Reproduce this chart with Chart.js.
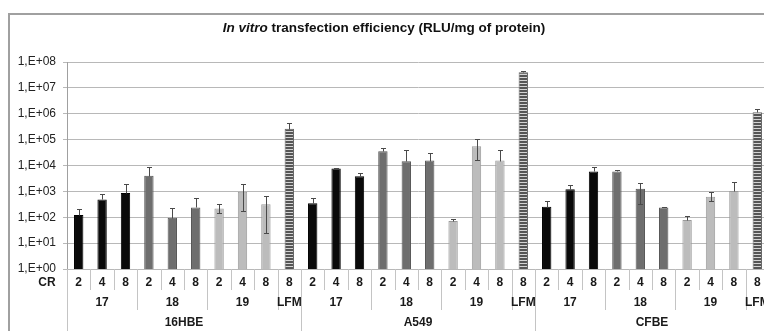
<!DOCTYPE html>
<html>
<head>
<meta charset="utf-8">
<script src="https://cdn.jsdelivr.net/npm/chart.js@4/dist/chart.umd.min.js"></script>
<style>
  html, body { margin: 0; padding: 0; background: #fff; overflow: hidden; }
  #wrap { position: relative; width: 790px; height: 331px; }
</style>
</head>
<body>
<div id="wrap"><canvas id="c"></canvas></div>
<script>
// Per-bar category rows (bottom axis reads: CR ratio / formulation / cell line)
const crLabels = ['2','4','8','2','4','8','2','4','8','8',
                  '2','4','8','2','4','8','2','4','8','8',
                  '2','4','8','2','4','8','2','4','8','8'];
const formulations = ['17','17','17','18','18','18','19','19','19','LFM',
                      '17','17','17','18','18','18','19','19','19','LFM',
                      '17','17','17','18','18','18','19','19','19','LFM'];
const cellLines = ['16HBE','16HBE','16HBE','16HBE','16HBE','16HBE','16HBE','16HBE','16HBE','16HBE',
                   'A549','A549','A549','A549','A549','A549','A549','A549','A549','A549',
                   'CFBE','CFBE','CFBE','CFBE','CFBE','CFBE','CFBE','CFBE','CFBE','CFBE'];

// Mean transfection efficiency (RLU/mg of protein)
const efficiency = [123, 490, 860, 4000, 96, 240, 220, 960, 316, 265000,
                    345, 7600, 3800, 35500, 14700, 15500, 72, 56000, 15500, 40000000,
                    257, 1200, 5900, 5900, 1260, 240, 79, 620, 1030, 1150000];
// Upper end of each error bar
const errorHigh = [214, 760, 1900, 9100, 220, 540, 330, 1900, 680, 435000,
                   540, 8300, 5200, 49000, 39000, 31600, 85, 102000, 38000, 43000000,
                   425, 1740, 8400, 7000, 2200, 257, 112, 940, 2340, 1550000];
// Lower end of each error bar (null where only the upper whisker is shown)
const errorLow = [null, null, null, null, null, null, 142, 178, 24, null,
                  null, null, null, null, null, null, null, 17000, null, null,
                  null, null, null, null, 325, null, null, 435, null, null];

// Y axis ticks
const yTicks = [1, 10, 100, 1000, 10000, 100000, 1000000, 10000000, 100000000];
const yTickLabels = ['1,E+00','1,E+01','1,E+02','1,E+03','1,E+04','1,E+05','1,E+06','1,E+07','1,E+08'];

const FONT = '"Liberation Sans", Arial, sans-serif';

function stripePattern() {
  const c = document.createElement('canvas');
  c.width = 4; c.height = 3;
  const g = c.getContext('2d');
  g.fillStyle = '#d4d4d4'; g.fillRect(0, 0, 4, 3);
  g.fillStyle = '#555555'; g.fillRect(0, 0, 4, 2);
  return g.createPattern(c, 'repeat');
}
const lfmFill = stripePattern();

const fillFor = { '17': '#0a0a0a', '18': '#6e6e6e', '19': '#bcbcbc', 'LFM': lfmFill };
const edgeFor = { '17': '#000000', '18': '#555555', '19': '#9a9a9a', 'LFM': '#666666' };

// Outer frame of the chart
const framePlugin = {
  id: 'frame',
  beforeDraw(chart) {
    const ctx = chart.ctx;
    ctx.save();
    ctx.strokeStyle = '#a0a0a0';
    ctx.lineWidth = 2;
    ctx.strokeRect(9, 14, 900, 400);
    ctx.restore();
  }
};

// Title with the italic "In vitro"
const titlePlugin = {
  id: 'mixedTitle',
  afterDraw(chart) {
    const ctx = chart.ctx;
    const a = 'In vitro', b = ' transfection efficiency (RLU/mg of protein)';
    const size = 13.5;
    ctx.save();
    ctx.fillStyle = '#111';
    ctx.textBaseline = 'middle';
    ctx.font = 'italic bold ' + size + 'px ' + FONT;
    const wa = ctx.measureText(a).width;
    ctx.font = 'bold ' + size + 'px ' + FONT;
    const wb = ctx.measureText(b).width;
    const x = 384 - (wa + wb) / 2;
    ctx.textAlign = 'left';
    ctx.font = 'italic bold ' + size + 'px ' + FONT;
    ctx.fillText(a, x, 28);
    ctx.font = 'bold ' + size + 'px ' + FONT;
    ctx.fillText(b, x + wa, 28);
    ctx.restore();
  }
};

// Error bars drawn through the scales
const errorPlugin = {
  id: 'errorBars',
  afterDatasetsDraw(chart) {
    const ctx = chart.ctx;
    const xs = chart.scales.x, ys = chart.scales.y;
    ctx.save();
    ctx.strokeStyle = '#4a4a4a';
    ctx.lineWidth = 1;
    efficiency.forEach((v, i) => {
      const x = Math.round(xs.getPixelForValue(i)) + 0.5;
      const yTop = Math.round(ys.getPixelForValue(errorHigh[i])) + 0.5;
      const yLow = Math.round(ys.getPixelForValue(errorLow[i] !== null ? errorLow[i] : v)) + 0.5;
      ctx.beginPath();
      ctx.moveTo(x, yLow); ctx.lineTo(x, yTop);
      ctx.moveTo(x - 2.5, yTop); ctx.lineTo(x + 2.5, yTop);
      if (errorLow[i] !== null) { ctx.moveTo(x - 2.5, yLow); ctx.lineTo(x + 2.5, yLow); }
      ctx.stroke();
    });
    ctx.restore();
  }
};

// Three-row category table under the plot
const tablePlugin = {
  id: 'categoryTable',
  afterDraw(chart) {
    const ctx = chart.ctx;
    const xs = chart.scales.x;
    const area = chart.chartArea;
    const n = crLabels.length;
    const step = (area.right - area.left) / n;
    const edge = i => area.left + i * step;
    const base = area.bottom;
    ctx.save();
    ctx.strokeStyle = '#c4c4c4';
    ctx.lineWidth = 1;
    // left axis continues through the table
    ctx.beginPath();
    ctx.moveTo(Math.round(area.left) + 0.5, base);
    ctx.lineTo(Math.round(area.left) + 0.5, 340);
    for (let i = 1; i <= n; i++) {
      let bottom = base + 21;
      if (i === n || cellLines[i] !== cellLines[i - 1]) bottom = 340;
      else if (formulations[i] !== formulations[i - 1]) bottom = base + 41;
      const x = Math.round(edge(i)) + 0.5;
      ctx.moveTo(x, base); ctx.lineTo(x, bottom);
    }
    ctx.stroke();

    ctx.fillStyle = '#1a1a1a';
    ctx.font = 'bold 12px ' + FONT;
    ctx.textAlign = 'center';
    ctx.textBaseline = 'middle';
    ctx.fillText('CR', 47, base + 14);
    crLabels.forEach((t, i) => ctx.fillText(t, xs.getPixelForValue(i), base + 14));

    // formulation spans
    let s = 0;
    for (let i = 1; i <= n; i++) {
      if (i === n || formulations[i] !== formulations[s] || cellLines[i] !== cellLines[s]) {
        ctx.fillText(formulations[s], (edge(s) + edge(i)) / 2, base + 34);
        s = i;
      }
    }
    // cell line spans
    s = 0;
    for (let i = 1; i <= n; i++) {
      if (i === n || cellLines[i] !== cellLines[s]) {
        ctx.fillText(cellLines[s], (edge(s) + edge(i)) / 2, base + 54);
        s = i;
      }
    }
    ctx.restore();
  }
};

new Chart(document.getElementById('c'), {
  type: 'bar',
  data: {
    labels: crLabels,
    datasets: [{
      data: efficiency,
      backgroundColor: ctx => fillFor[formulations[ctx.dataIndex]],
      borderColor: ctx => edgeFor[formulations[ctx.dataIndex]],
      borderWidth: 1,
      borderSkipped: 'bottom',
      barPercentage: 0.4,
      categoryPercentage: 1.0
    }]
  },
  options: {
    responsive: true,
    maintainAspectRatio: false,
    devicePixelRatio: 1,
    animation: false,
    layout: { padding: { left: 0, top: 62, right: 21, bottom: 62 } },
    plugins: { legend: { display: false }, title: { display: false }, tooltip: { enabled: false } },
    scales: {
      x: { display: false, offset: true },
      y: {
        type: 'logarithmic',
        min: 1,
        max: 100000000,
        afterBuildTicks: scale => { scale.ticks = yTicks.map(v => ({ value: v })); },
        afterFit: scale => { scale.width = 67; },
        ticks: {
          autoSkip: false,
          padding: 7,
          color: '#222',
          font: { family: FONT, size: 12 },
          callback: (v) => yTickLabels[yTicks.indexOf(v)]
        },
        grid: { color: '#b8b8b8', lineWidth: 1, tickLength: 4, drawTicks: true },
        border: { display: true, color: '#a0a0a0' }
      }
    }
  },
  plugins: [framePlugin, titlePlugin, errorPlugin, tablePlugin]
});
</script>
</body>
</html>
